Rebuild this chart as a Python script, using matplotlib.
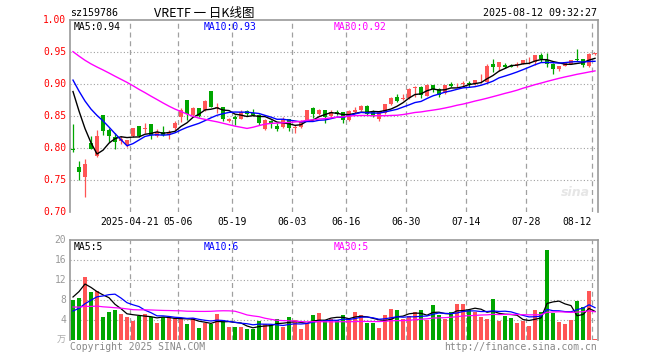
import numpy as np
import pandas as pd
import matplotlib
matplotlib.use('Agg')
import matplotlib.pyplot as plt

# trading days shown (2025)
dates = ['04-07', '04-08', '04-09', '04-10', '04-11', '04-14', '04-15', '04-16', '04-17', '04-18',
         '04-21', '04-22', '04-23', '04-24', '04-25', '04-28', '04-29', '04-30',
         '05-06', '05-07', '05-08', '05-09', '05-12', '05-13', '05-14', '05-15', '05-16',
         '05-19', '05-20', '05-21', '05-22', '05-23', '05-26', '05-27', '05-28', '05-29', '05-30',
         '06-03', '06-04', '06-05', '06-06', '06-09', '06-10', '06-11', '06-12', '06-13',
         '06-16', '06-17', '06-18', '06-19', '06-20', '06-23', '06-24', '06-25', '06-26', '06-27',
         '06-30', '07-01', '07-02', '07-03', '07-04', '07-07', '07-08', '07-09', '07-10', '07-11',
         '07-14', '07-15', '07-16', '07-17', '07-18', '07-21', '07-22', '07-23', '07-24', '07-25',
         '07-28', '07-29', '07-30', '07-31', '08-01', '08-04', '08-05', '08-06', '08-07', '08-08',
         '08-11', '08-12']

opens = [0.799, 0.770, 0.755, 0.808, 0.788, 0.852, 0.828, 0.817, 0.811, 0.804,
         0.818, 0.834, 0.830, 0.8375, 0.819, 0.8255, 0.821, 0.831, 0.849, 0.875,
         0.851, 0.8625, 0.859, 0.889, 0.863, 0.8635, 0.842, 0.848, 0.846, 0.858,
         0.854, 0.8515, 0.829, 0.842, 0.835, 0.833, 0.845, 0.831, 0.833, 0.844,
         0.863, 0.8525, 0.859, 0.8505, 0.856, 0.856, 0.843, 0.856, 0.859, 0.866,
         0.857, 0.846, 0.854, 0.868, 0.879, 0.877, 0.878, 0.893, 0.896, 0.882,
         0.8985, 0.892, 0.8855, 0.900, 0.898, 0.900, 0.901, 0.8995, 0.904, 0.9035,
         0.931, 0.927, 0.929, 0.928, 0.930, 0.932, 0.937, 0.935, 0.945, 0.9375,
         0.932, 0.923, 0.9285, 0.932, 0.939, 0.9385, 0.9285, 0.947]
highs = [0.837, 0.780, 0.783, 0.818, 0.828, 0.852, 0.831, 0.823, 0.818, 0.8125,
         0.832, 0.835, 0.839, 0.8375, 0.829, 0.834, 0.828, 0.8427, 0.862, 0.875,
         0.8645, 0.863, 0.875, 0.889, 0.870, 0.8635, 0.847, 0.852, 0.860, 0.859,
         0.861, 0.853, 0.845, 0.843, 0.839, 0.849, 0.846, 0.836, 0.843, 0.860,
         0.864, 0.861, 0.860, 0.859, 0.859, 0.857, 0.859, 0.8645, 0.867, 0.867,
         0.859, 0.857, 0.869, 0.880, 0.884, 0.884, 0.893, 0.897, 0.897, 0.900,
         0.899, 0.893, 0.899, 0.903, 0.902, 0.905, 0.905, 0.907, 0.9155, 0.932,
         0.9385, 0.935, 0.933, 0.932, 0.935, 0.938, 0.942, 0.946, 0.949, 0.949,
         0.933, 0.928, 0.935, 0.938, 0.9545, 0.939, 0.948, 0.949]
lows = [0.794, 0.750, 0.724, 0.798, 0.786, 0.820, 0.810, 0.798, 0.807, 0.802,
        0.817, 0.817, 0.823, 0.8135, 0.817, 0.818, 0.8135, 0.828, 0.841, 0.844,
        0.850, 0.849, 0.858, 0.864, 0.855, 0.842, 0.841, 0.836, 0.845, 0.850,
        0.850, 0.836, 0.828, 0.832, 0.827, 0.832, 0.827, 0.824, 0.832, 0.843,
        0.847, 0.851, 0.839, 0.849, 0.851, 0.839, 0.842, 0.855, 0.858, 0.851,
        0.848, 0.842, 0.853, 0.867, 0.872, 0.875, 0.877, 0.879, 0.878, 0.881,
        0.887, 0.880, 0.885, 0.895, 0.895, 0.895, 0.896, 0.898, 0.901, 0.902,
        0.919, 0.921, 0.925, 0.926, 0.927, 0.931, 0.932, 0.930, 0.935, 0.927,
        0.915, 0.921, 0.928, 0.931, 0.936, 0.926, 0.927, 0.945]
closes = [0.797, 0.763, 0.775, 0.799, 0.819, 0.827, 0.818, 0.810, 0.814, 0.8125,
          0.831, 0.819, 0.831, 0.820, 0.825, 0.820, 0.8255, 0.8395, 0.859, 0.853,
          0.8625, 0.850, 0.873, 0.8645, 0.864, 0.845, 0.846, 0.845, 0.857, 0.853,
          0.852, 0.8395, 0.844, 0.837, 0.830, 0.846, 0.832, 0.832, 0.842, 0.859,
          0.8525, 0.859, 0.849, 0.857, 0.8535, 0.843, 0.858, 0.859, 0.866, 0.8525,
          0.850, 0.856, 0.868, 0.878, 0.874, 0.878, 0.892, 0.896, 0.883, 0.8985,
          0.892, 0.883, 0.8985, 0.897, 0.899, 0.901, 0.900, 0.906, 0.905, 0.9285,
          0.927, 0.934, 0.927, 0.927, 0.932, 0.9375, 0.938, 0.945, 0.9385, 0.931,
          0.923, 0.928, 0.934, 0.9375, 0.938, 0.930, 0.947, 0.948]
# volume, 万
volumes = [8.0, 8.4, 12.6, 9.6, 9.8, 4.7, 5.6, 6.0, 5.2, 4.7,
           3.8, 4.9, 5.3, 4.6, 3.5, 4.7, 4.4, 4.4, 4.4, 3.2,
           4.4, 2.4, 3.4, 3.2, 5.2, 4.0, 2.6, 2.6, 2.6, 2.2,
           2.2, 3.8, 3.2, 3.0, 4.2, 2.6, 4.6, 4.0, 2.2, 3.2,
           5.0, 5.4, 4.0, 4.3, 4.0, 5.0, 4.0, 5.7, 5.0, 3.5,
           3.5, 2.5, 5.0, 6.2, 6.0, 4.2, 4.8, 5.7, 6.0, 4.1,
           7.0, 5.0, 4.3, 5.7, 7.2, 7.2, 6.0, 5.7, 4.7, 4.2,
           8.2, 3.9, 4.8, 4.4, 3.5, 3.9, 2.9, 6.0, 5.7, 18.0,
           5.5, 3.7, 3.2, 4.0, 7.9, 6.7, 9.8, 0.2]

# 29 sessions before 04-07, not drawn, only feed the moving averages
prev_closes = [0.972, 0.970, 0.968, 0.966, 0.964, 0.962, 0.960, 0.958, 0.957, 0.990,
               0.988, 0.986, 0.984, 0.982, 0.980, 0.978, 0.976, 0.974, 0.972, 0.968,
               0.935, 0.930, 0.925, 0.918, 0.912, 0.915, 0.912, 0.910, 0.907]
prev_volumes = [9.0, 8.0, 10.0, 8.0, 9.0, 8.0, 9.0, 8.0, 9.0, 8.5,
                6.0, 5.0, 5.5, 5.0, 6.0, 5.0, 5.5, 5.0, 5.5, 5.0,
                3.0, 3.5, 2.5, 3.0, 3.0, 3.0, 5.0, 13.0, 14.0]

tick_dates = ['04-21', '05-06', '05-19', '06-03', '06-16', '06-30', '07-14', '07-28', '08-12']
tick_labels = ['2025-04-21', '05-06', '05-19', '06-03', '06-16', '06-30', '07-14', '07-28', '08-12']
price_ticks = [0.70, 0.75, 0.80, 0.85, 0.90, 0.95, 1.00]
vol_ticks = [4, 8, 12, 16, 20]

RED = '#FF5555'
GREEN = '#00A600'
GRID = '#A0A0A0'
FRAME = '#999999'
MA_COLORS = {5: 'black', 10: '#0000FF', 30: '#FF00FF'}
MONO = 'DejaVu Sans Mono'
W, H = 660, 360


# moving averages over the visible window, with the earlier sessions in front
def moving_average(prev, values, n):
    s = pd.Series(list(prev) + list(values))
    return s.rolling(n).mean().values[len(prev):]


def trunc(v, digits):
    f = 10 ** digits
    return np.floor(v * f + 1e-9) / f


# text placed in pixel coordinates of the 660x360 image
def put(fig, x, y, s, **kw):
    kw.setdefault('family', MONO)
    kw.setdefault('fontsize', 7.0)
    kw.setdefault('va', 'center')
    fig.text(x / W, 1 - y / H, s, **kw)


def style_axes(ax):
    for side in ['left', 'top', 'right']:
        ax.spines[side].set_color(FRAME)
        ax.spines[side].set_linewidth(1.2)
    ax.spines['bottom'].set_visible(False)
    ax.set_xticks([])
    ax.set_yticks([])
    ax.set_xlim(-0.5, len(dates) - 0.5)


x = np.arange(len(dates))
o = np.array(opens)
c = np.array(closes)
up = c >= o
colors = np.where(up, RED, GREEN)
tick_pos = [dates.index(d) - 0.5 for d in tick_dates]

fig = plt.figure(figsize=(W / 100, H / 100), dpi=100)
ax = fig.add_axes([70 / W, 148 / H, 528 / W, 192 / H])
axv = fig.add_axes([70 / W, 20 / H, 528 / W, 100 / H])

# price panel
style_axes(ax)
ax.set_ylim(0.70, 1.00)
for p in price_ticks[1:-1]:
    ax.axhline(p, color=GRID, lw=0.8, ls=(0, (1, 2)), zorder=0)
for t in tick_pos:
    ax.axvline(t, color=GRID, lw=0.9, ls=(0, (4, 3)), zorder=0)

ax.vlines(x, lows, highs, colors=colors, lw=0.9, zorder=2)
body = np.maximum(np.abs(c - o), 0.0012)
ax.bar(x, body, bottom=np.minimum(o, c), width=0.8, color=colors, lw=0, zorder=3)

ma_price = {}
for n in (5, 10, 30):
    ma_price[n] = moving_average(prev_closes, closes, n)
    ax.plot(x, ma_price[n], color=MA_COLORS[n], lw=1.0, zorder=4)

# volume panel
style_axes(axv)
axv.set_ylim(0, 20)
for v in vol_ticks[:-1]:
    axv.axhline(v, color=GRID, lw=0.8, ls=(0, (1, 2)), zorder=0)
for t in tick_pos:
    axv.axvline(t, color=GRID, lw=0.9, ls=(0, (4, 3)), zorder=0)
axv.bar(x, volumes, width=0.8, color=colors, lw=0, zorder=2)

ma_vol = {}
for n in (5, 10, 30):
    ma_vol[n] = moving_average(prev_volumes, volumes, n)
    axv.plot(x, ma_vol[n], color=MA_COLORS[n], lw=0.9, zorder=3)

# header
put(fig, 70, 13, 'sz159786', fontsize=7.2)
put(fig, 204, 13, 'VRETF 一 日K线图', ha='center', fontsize=9,
    family=['Noto Sans CJK SC', 'DejaVu Sans'])
put(fig, 597, 13, '2025-08-12 09:32:27', ha='right', fontsize=7.2)

# legends
legend_x = {5: 74, 10: 204, 30: 334}
for n in (5, 10, 30):
    put(fig, legend_x[n], 27, 'MA%d:%.2f' % (n, trunc(ma_price[n][-1], 2)),
        color=MA_COLORS[n])
    put(fig, legend_x[n], 247, 'MA%d:%d' % (n, int(ma_vol[n][-1])),
        color=MA_COLORS[n])

# y labels
for p in price_ticks:
    y = 212 - (p - 0.70) / 0.30 * 192
    put(fig, 66, y, '%.2f' % p, ha='right', color='#FF0000', fontsize=6.9)
for v in vol_ticks:
    y = 340 - v / 20 * 100
    put(fig, 66, y, '%d' % v, ha='right', color='#999999', fontsize=6.9)
put(fig, 66, 340, '万', ha='right', color='#AAAAAA', fontsize=6.5,
    family=['Noto Sans CJK SC', 'DejaVu Sans'])

# date labels
for t, lab in zip(tick_pos, tick_labels):
    px = 70 + (t + 0.5) * 6
    if lab == tick_labels[-1]:
        put(fig, px, 222, lab, ha='right')
    else:
        put(fig, px, 222, lab, ha='center')

# footer and watermark
put(fig, 70, 347, 'Copyright 2025 SINA.COM', color='#888888')
put(fig, 597, 347, 'http://finance.sina.com.cn', ha='right', color='#888888')
put(fig, 575, 193, 'sina', ha='center', color='#E6E6E6', fontsize=9,
    family='DejaVu Sans', style='italic', weight='bold')

fig.savefig('out.png', dpi=100)
